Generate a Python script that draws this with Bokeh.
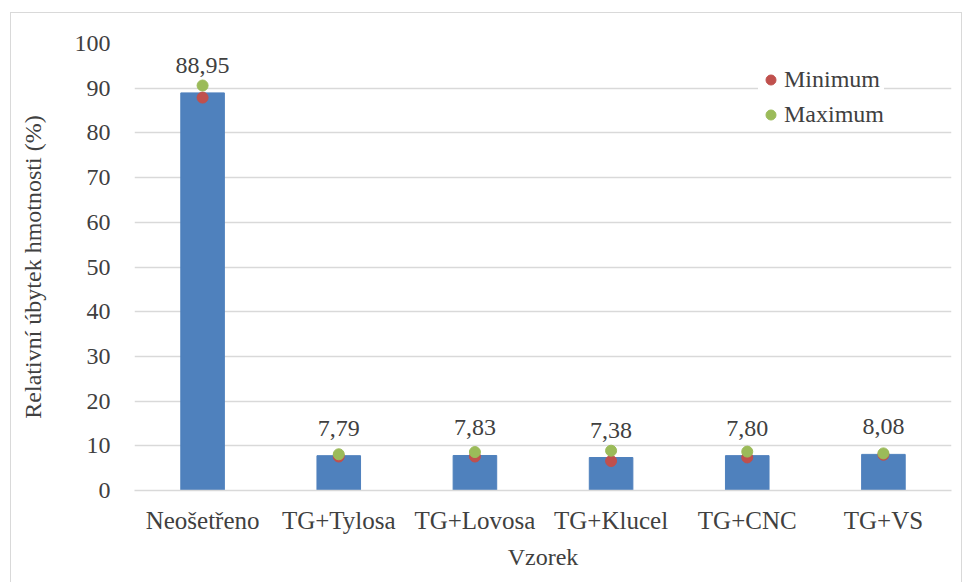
from bokeh.plotting import figure
from bokeh.models import ColumnDataSource, FixedTicker, Legend, LegendItem, LabelSet
from bokeh.core.properties import value
from bokeh.embed import file_html
from bokeh.resources import INLINE

categories = ["Neošetřeno", "TG+Tylosa", "TG+Lovosa", "TG+Klucel", "TG+CNC", "TG+VS"]
mean_values = [88.95, 7.79, 7.83, 7.38, 7.80, 8.08]
min_values = [87.9, 7.6, 7.6, 6.6, 7.4, 8.0]
max_values = [90.6, 8.1, 8.6, 8.9, 8.7, 8.3]
label_texts = ["88,95", "7,79", "7,83", "7,38", "7,80", "8,08"]

FONT = "Liberation Serif"
FS = "24px"
TXT = "#404040"
GRID = "#d9d9d9"

src = ColumnDataSource(dict(cat=categories, mean=mean_values, mn=min_values,
                            mx=max_values, lab=label_texts))

p = figure(x_range=categories, y_range=(0, 100), width=952, height=574,
           output_backend="svg", toolbar_location=None,
           min_border_left=123, min_border_right=12, min_border_top=30,
           min_border_bottom=97, margin=(12, 0, 0, 10),
           styles={"border": "1px solid #d9d9d9", "box-sizing": "border-box"})
p.x_range.range_padding = 0

p.vbar(x="cat", top="mean", width=0.32, source=src, color="#4f81bd")
r_min = p.scatter(x="cat", y="mn", source=src, size=11, color="#c0504d")
r_max = p.scatter(x="cat", y="mx", source=src, size=11, color="#9bbb59")

labels = LabelSet(x="cat", y="mean", text="lab", source=src, text_align="center",
                  text_baseline="bottom", y_offset=20, text_font=value(FONT),
                  text_font_size=value(FS), text_color=TXT)
p.add_layout(labels)

legend = Legend(items=[LegendItem(label="Minimum", renderers=[r_min]),
                       LegendItem(label="Maximum", renderers=[r_max])],
                location=(624, 362), border_line_color=None,
                background_fill_alpha=1.0, label_text_font=FONT,
                label_text_font_size=FS, label_text_color=TXT,
                glyph_width=25, glyph_height=25, spacing=8, label_standoff=1,
                margin=0, padding=14)
p.add_layout(legend)

p.outline_line_color = None
p.xgrid.grid_line_color = None
p.ygrid.grid_line_color = GRID
p.ygrid.grid_line_width = 1.5

p.yaxis.ticker = FixedTicker(ticks=list(range(0, 101, 10)))
p.yaxis.axis_line_color = None
p.yaxis.major_tick_line_color = None
p.yaxis.minor_tick_line_color = None
p.yaxis.major_label_text_font = FONT
p.yaxis.major_label_text_font_size = FS
p.yaxis.major_label_text_color = TXT
p.yaxis.major_label_standoff = 18
p.yaxis.axis_label = "Relativní úbytek hmotnosti (%)"
p.yaxis.axis_label_text_font = FONT
p.yaxis.axis_label_text_font_size = FS
p.yaxis.axis_label_text_font_style = "normal"
p.yaxis.axis_label_text_color = TXT
p.yaxis.axis_label_standoff = 26

p.xaxis.axis_line_color = GRID
p.xaxis.axis_line_width = 1.5
p.xaxis.major_tick_line_color = None
p.xaxis.minor_tick_line_color = None
p.xaxis.major_label_text_font = FONT
p.xaxis.major_label_text_font_size = "25px"
p.xaxis.major_label_text_color = TXT
p.xaxis.major_label_standoff = 10
p.xaxis.axis_label = "Vzorek"
p.xaxis.axis_label_text_font = FONT
p.xaxis.axis_label_text_font_size = FS
p.xaxis.axis_label_text_font_style = "normal"
p.xaxis.axis_label_text_color = TXT
p.xaxis.axis_label_standoff = 7

open("out.html", "w").write(file_html(p, INLINE))
